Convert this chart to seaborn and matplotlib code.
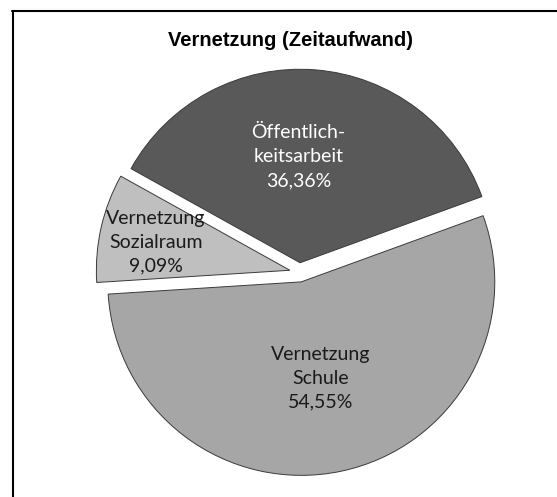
import matplotlib
matplotlib.use("Agg")
import matplotlib.pyplot as plt
from matplotlib.lines import Line2D
import seaborn as sns

# ── Data ──────────────────────────────────────────────────────────────────────
categories = ["Öffentlich-\nkeitsarbeit", "Vernetzung\nSchule", "Vernetzung\nSozialraum"]
shares = [36.36, 54.55, 9.09]
slice_colors = ["#595959", "#a6a6a6", "#bfbfbf"]
text_colors = ["white", "#1a1a1a", "#1a1a1a"]

# label centres, in pie-radius units from the pie centre
label_pos = [(-0.004, 0.598), (0.111, -0.547), (-0.741, 0.156)]

sns.set_theme(style="white")
plt.rcParams["font.family"] = ["Lato", "DejaVu Sans"]

W, H = 557, 497
fig = plt.figure(figsize=(W / 100, H / 100), dpi=100)
ax = fig.add_axes([0, 0, 1, 1])

ax.pie(
    shares,
    colors=slice_colors,
    startangle=150.9,
    counterclock=False,
    explode=[0.05] * len(shares),
    radius=1,
    wedgeprops={"edgecolor": "#3a3a3a", "linewidth": 0.7},
)

for name, val, (px, py), tc in zip(categories, shares, label_pos, text_colors):
    pct = f"{val:.2f}".replace(".", ",") + "%"
    ax.text(px, py, f"{name}\n{pct}", ha="center", va="center",
            fontsize=14, color=tc, linespacing=1.5)

# pie centre sits at (299, 272) px, radius ~193.5 px
R, cx, cy = 193.5, 299.3, 272.4
ax.set_xlim(-cx / R, (W - cx) / R)
ax.set_ylim(-(H - cy) / R, cy / R)
ax.set_aspect("auto")
ax.axis("off")

fig.text(291 / W, 1 - 40.5 / H, "Vernetzung (Zeitaufwand)",
         ha="center", va="center", fontsize=14.5, fontweight="bold",
         family=["Liberation Sans", "DejaVu Sans"], color="black")

# chart border (top and left edges visible)
fig.add_artist(Line2D([12 / W, 1], [1 - 10.5 / H] * 2, color="black", lw=1.5))
fig.add_artist(Line2D([13 / W] * 2, [0, 1 - 10.5 / H], color="black", lw=1.5))

fig.savefig("out.png", dpi=100)
